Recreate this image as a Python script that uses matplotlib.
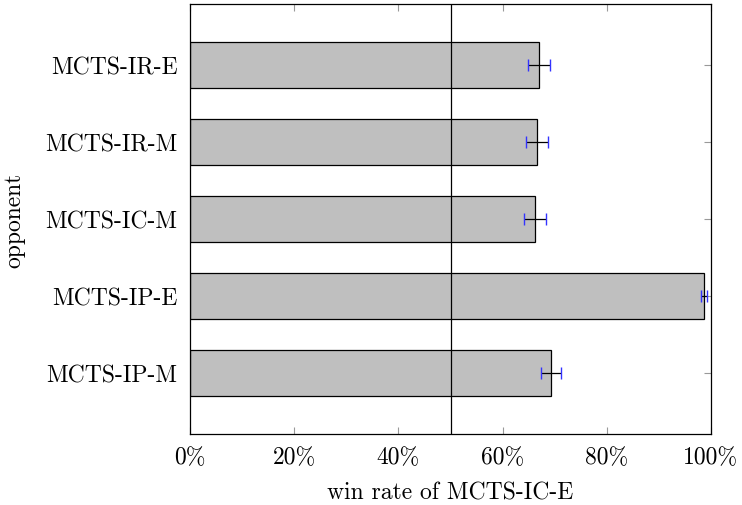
import matplotlib
matplotlib.use("Agg")
import matplotlib.pyplot as plt
from matplotlib.ticker import FuncFormatter

opponents = ["MCTS-IR-E", "MCTS-IR-M", "MCTS-IC-M", "MCTS-IP-E", "MCTS-IP-M"]
win_rate = [67.0, 66.6, 66.2, 98.7, 69.3]
err = [2.1, 2.1, 2.1, 0.6, 2.0]
x_ticks = [0, 20, 40, 60, 80, 100]

plt.rcParams["font.family"] = ["cmr10", "DejaVu Serif"]
plt.rcParams["mathtext.fontset"] = "cm"
plt.rcParams["axes.formatter.use_mathtext"] = True

fig = plt.figure(figsize=(7.42, 5.06), dpi=100)
ax = fig.add_axes([190 / 742, 71 / 506, 521 / 742, 430 / 506])

ypos = list(range(len(opponents)))[::-1]
ax.barh(ypos, win_rate, height=0.6, color="#bfbfbf", edgecolor="black", linewidth=0.9, zorder=2)
line, caps, bars = ax.errorbar(win_rate, ypos, xerr=err, fmt="none", ecolor="black",
                               elinewidth=0.9, capsize=4, capthick=1.0, zorder=3)
for c in caps:
    c.set_color("#3333ff")
    c.set_markeredgecolor("#3333ff")
    c.set_markerfacecolor("#3333ff")
ax.axvline(50, color="black", linewidth=0.9, zorder=4)

ax.set_xlim(0, 100)
ax.set_ylim(-0.79, 4.79)
ax.set_xticks(x_ticks)
ax.xaxis.set_major_formatter(FuncFormatter(lambda v, p: f"{v:.0f}%"))
ax.set_yticks(ypos)
ax.set_yticklabels(opponents)
ax.tick_params(direction="in", length=5, color="#999999", top=True, right=True,
               labelsize=17, pad=9)
for s in ax.spines.values():
    s.set_linewidth(0.9)
ax.set_xlabel("win rate of MCTS-IC-E", fontsize=17, labelpad=9)
ax.set_ylabel("opponent", fontsize=17, labelpad=14)

fig.savefig("out.png", dpi=100)
